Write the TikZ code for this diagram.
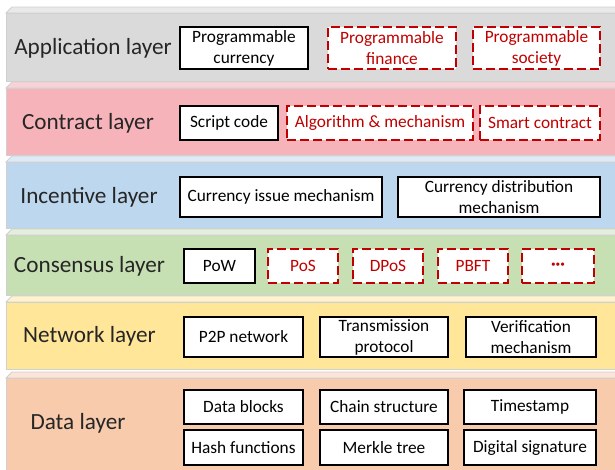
\documentclass[tikz,border=0pt]{standalone}
\usepackage{fontspec}
\setmainfont{Carlito}
\definecolor{dred}{HTML}{C00000}
\definecolor{edge}{HTML}{D0D0D0}
\definecolor{appF}{HTML}{DADADB}\definecolor{appT}{HTML}{E9E9EA}
\definecolor{conF}{HTML}{F7B3BA}\definecolor{conT}{HTML}{FAD2D6}
\definecolor{incF}{HTML}{BDD7EE}\definecolor{incT}{HTML}{DDEBF7}
\definecolor{csnF}{HTML}{C6E0B4}\definecolor{csnT}{HTML}{E2EFDA}
\definecolor{netF}{HTML}{FFE699}\definecolor{netT}{HTML}{FFF2CC}
\definecolor{datF}{HTML}{F8CBAD}\definecolor{datT}{HTML}{FCE4D6}
\tikzset{
  solidbox/.style={draw=black, line width=1.1pt, fill=white, inner sep=0pt, align=center, font=\fontsize{17.3}{21}\selectfont},
  dashbox/.style={draw=dred, line width=1.2pt, dash pattern=on 9pt off 4pt, fill=white, text=dred, inner sep=0pt, align=center, font=\fontsize{17.3}{21}\selectfont},
  layerlabel/.style={font=\fontsize{23.2}{26}\selectfont, text=black!85, inner sep=0pt},
}
\newcommand{\slab}[4]{% ytop, ybottom, front, topcolor
  \fill[#4, draw=edge, line width=0.8pt] (6,#1) -- (12,#1-6) -- (625,#1-6) -- (625,#1) -- cycle;
  \fill[#3, draw=edge, line width=0.8pt] (6,#1) rectangle (625,#2);
}
\begin{document}
\begin{tikzpicture}[x=1pt,y=-1pt]
\useasboundingbox (0,0) rectangle (615,469);
\clip (0,0) rectangle (615,469);
\fill[white] (0,0) rectangle (615,469);
\slab{13}{81}{appF}{appT}
\slab{88}{155}{conF}{conT}
\slab{162}{228}{incF}{incT}
\slab{235}{295}{csnF}{csnT}
\slab{302}{369}{netF}{netT}
\slab{378}{475}{datF}{datT}

% labels
\node[layerlabel] (lapp) at (93,48) {Application layer};
\node[layerlabel] (lcon) at (88,123) {Contract layer};
\node[layerlabel] (linc) at (89,197) {Incentive layer};
\node[layerlabel] (lcsn) at (89.5,266) {Consensus layer};
\node[layerlabel] (lnet) at (89.5,336) {Network layer};
\node[layerlabel] (ldat) at (78,423) {Data layer};

% application
\node[solidbox, minimum width=128pt, minimum height=42pt] (cur) at (244,48) {Programmable\\currency};
\node[dashbox, minimum width=128pt, minimum height=42pt] (fin) at (392,48) {Programmable\\finance};
\node[dashbox, minimum width=127pt, minimum height=42pt] (soc) at (536.5,48) {Programmable\\society};
% contract
\node[solidbox, minimum width=98pt, minimum height=34pt] (scr) at (229,123) {Script code};
\node[dashbox, minimum width=186pt, minimum height=34pt] (alg) at (380,123) {Algorithm \& mechanism};
\node[dashbox, minimum width=120pt, minimum height=34pt] (sma) at (540,123) {Smart contract};
% incentive
\node[solidbox, minimum width=202pt, minimum height=40pt] (iss) at (281,197) {Currency issue mechanism};
\node[solidbox, minimum width=202pt, minimum height=40pt] (dis) at (499,197) {Currency distribution\\mechanism};
% consensus
\node[solidbox, minimum width=71pt, minimum height=34pt] (pow) at (219.5,266) {PoW};
\node[dashbox, minimum width=70pt, minimum height=34pt] (pos) at (303,266) {PoS};
\node[dashbox, minimum width=70pt, minimum height=34pt] (dpos) at (388,266) {DPoS};
\node[dashbox, minimum width=70pt, minimum height=34pt] (pbft) at (473,266) {PBFT};
\node[dashbox, minimum width=72pt, minimum height=34pt] (more) at (558,266) {\textbf{···}};
% network
\node[solidbox, minimum width=119pt, minimum height=40pt] (p2p) at (243.5,337) {P2P network};
\node[solidbox, minimum width=128pt, minimum height=40pt] (tra) at (384,337) {Transmission\\protocol};
\node[solidbox, minimum width=130pt, minimum height=40pt] (ver) at (531,337) {Verification\\mechanism};
% data
\node[solidbox, minimum width=119pt, minimum height=34pt] (blk) at (243.5,407) {Data blocks};
\node[solidbox, minimum width=128pt, minimum height=34pt] (chn) at (384,407) {Chain structure};
\node[solidbox, minimum width=132pt, minimum height=34pt] (tim) at (530,407) {Timestamp};
\node[solidbox, minimum width=119pt, minimum height=35pt] (hsh) at (243.5,447.5) {Hash functions};
\node[solidbox, minimum width=128pt, minimum height=35pt] (mrk) at (384,447.5) {Merkle tree};
\node[solidbox, minimum width=132pt, minimum height=35pt] (sig) at (530,447.5) {Digital signature};
\end{tikzpicture}
\end{document}
